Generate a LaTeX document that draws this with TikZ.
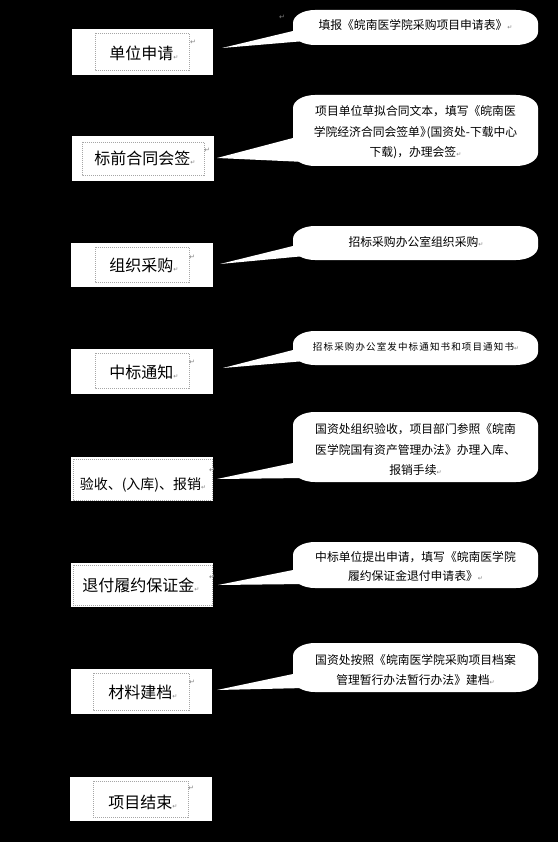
\documentclass[tikz,border=0pt]{standalone}
\usepackage{fontspec}
\newfontfamily\cjk{Noto Sans CJK SC}
\newfontfamily\dv{DejaVu Sans}
\newcommand\parmark{{\dv\fontsize{6}{6}\selectfont\textcolor{gray}{↵}}}
\newcommand\drawbubble[4]{%
 \fill[bubblefill] ({#1+22},#2) -- ({#3-22},#2) .. controls ({#3-9.9},#2) and (#3,{#2+5.8}) .. (#3,{#2+13})
 -- (#3,{#4-13}) .. controls (#3,{#4-5.8}) and ({#3-9.9},#4) .. ({#3-22},#4)
 -- ({#1+22},#4) .. controls ({#1+9.9},#4) and (#1,{#4-5.8}) .. (#1,{#4-13})
 -- (#1,{#2+13}) .. controls (#1,{#2+5.8}) and ({#1+9.9},#2) .. ({#1+22},#2) -- cycle;}
\tikzset{
 bubblefill/.style={fill=white},
 stepbox/.style={fill=white,draw=none,inner sep=0pt,outer sep=0pt},
 innerframe/.style={draw=gray!70,line width=0.5pt,dash pattern=on 1pt off 1pt},
 boxlbl/.style={font=\cjk\fontsize{16}{16}\selectfont,inner sep=0pt},
 bubtext/.style={font=\cjk\fontsize{11.8}{20.5}\selectfont,align=center,inner sep=0pt},
 anchormark/.style={inner sep=0pt,font=\dv\fontsize{7}{7}\selectfont,text=gray},
}
\begin{document}
\begin{tikzpicture}[x=1pt,y=-1pt]
\fill[black] (0,0) rectangle (558,842);
\useasboundingbox (0,0) rectangle (558,842);

% ---- left boxes
\node[stepbox,minimum width=141pt,minimum height=46pt] (b1) at (142.5,52) {};
\node[stepbox,minimum width=142pt,minimum height=45pt] (b2) at (143,158.5) {};
\node[stepbox,minimum width=142pt,minimum height=44pt] (b3) at (142,265) {};
\node[stepbox,minimum width=142pt,minimum height=45pt] (b4) at (142,371.5) {};
\node[stepbox,minimum width=142pt,minimum height=44pt] (b5) at (142,479) {};
\node[stepbox,minimum width=142pt,minimum height=44pt] (b6) at (142,585) {};
\node[stepbox,minimum width=141pt,minimum height=45pt] (b7) at (141.5,691.5) {};
\node[stepbox,minimum width=142pt,minimum height=44pt] (b8) at (141,799) {};

% ---- inner dashed frames
\draw[innerframe] (95,33) rectangle (189,70);
\draw[innerframe] (82,142) rectangle (204,175);
\draw[innerframe] (95,247) rectangle (189,282);
\draw[innerframe] (95,353) rectangle (189,388);
\draw[innerframe] (73,459) rectangle (212,500);
\draw[innerframe] (73,565) rectangle (212,605);
\draw[innerframe] (93,673) rectangle (189,710);
\draw[innerframe] (93,781) rectangle (188,817);

% ---- box labels
\node[boxlbl] (l1) at (144,53) {单位申请\parmark};
\node[boxlbl] (l2) at (145,158) {标前合同会签\parmark};
\node[boxlbl] (l3) at (144,265) {组织采购\parmark};
\node[boxlbl] (l4) at (144,372) {中标通知\parmark};
\node[boxlbl,font=\cjk\fontsize{14}{14}\selectfont] (l5) at (143,485) {验收、(入库)、报销\parmark};
\node[boxlbl] (l6) at (141,585) {退付履约保证金\parmark};
\node[boxlbl] (l7) at (143,692) {材料建档\parmark};
\node[boxlbl] (l8) at (143,802) {项目结束\parmark};

% ---- anchor marks
\node[anchormark] (m1) at (193,42) {↵};
\node[anchormark] (m2) at (207,150) {↵};
\node[anchormark] (m3) at (192,257) {↵};
\node[anchormark] (m4) at (192,362) {↵};
\node[anchormark] (m5) at (212,470) {↵};
\node[anchormark] (m6) at (212,577) {↵};
\node[anchormark] (m7) at (192,682) {↵};
\node[anchormark] (m8) at (191,788) {↵};
\node[anchormark] (m0) at (282,17) {↵};

% ---- callout bubbles
\drawbubble{293}{10}{538}{45}
\drawbubble{293}{95}{538}{166}
\drawbubble{293}{226}{538}{260}
\drawbubble{293}{331}{538}{365}
\drawbubble{293}{412}{538}{482}
\drawbubble{293}{542}{538}{588}
\drawbubble{293}{643}{538}{692}

% ---- tails
\coordinate (t1) at (222,48);  \coordinate (u1) at (293,31);  \coordinate (w1) at (305,41);
\coordinate (t2) at (217,158); \coordinate (u2) at (293,138); \coordinate (w2) at (305,162);
\coordinate (t3) at (220,264); \coordinate (u3) at (293,246); \coordinate (w3) at (305,256);
\coordinate (t4) at (223,368); \coordinate (u4) at (293,350); \coordinate (w4) at (305,361);
\coordinate (t5) at (217,479); \coordinate (u5) at (293,463); \coordinate (w5) at (305,478);
\coordinate (t6) at (218,585); \coordinate (u6) at (293,570); \coordinate (w6) at (305,584);
\coordinate (t7) at (217,690); \coordinate (u7) at (293,674); \coordinate (w7) at (305,688);
\foreach \i in {1,...,7}{\fill[bubblefill] (u\i) -- (t\i) -- (w\i) -- cycle;}

% ---- callout texts
\node[bubtext] (c1) at (415.5,25) {填报《皖南医学院采购项目申请表》\parmark};
\node[bubtext] (c2) at (415.5,132.5) {项目单位草拟合同文本，填写《皖南医\\学院经济合同会签单》\kern-0.45em(国资处-下载中心\\下载)，办理会签\parmark};
\node[bubtext] (c3) at (416,242) {招标采购办公室组织采购\parmark};
\node[bubtext,font=\cjk\addfontfeature{LetterSpace=12}\fontsize{9.5}{9.5}\selectfont] (c4) at (416,347) {招标采购办公室发中标通知书和项目通知书\parmark};
\node[bubtext] (c5) at (415.5,449.5) {国资处组织验收，项目部门参照《皖南\\医学院国有资产管理办法》办理入库、\\报销手续\parmark};
\node[bubtext,font=\cjk\fontsize{11.8}{19.5}\selectfont] (c6) at (415.5,566.5) {中标单位提出申请，填写《皖南医学院\\履约保证金退付申请表》\parmark};
\node[bubtext,font=\cjk\fontsize{11.8}{20}\selectfont] (c7) at (415.5,670) {国资处按照《皖南医学院采购项目档案\\管理暂行办法暂行办法》建档\parmark};
\end{tikzpicture}
\end{document}
